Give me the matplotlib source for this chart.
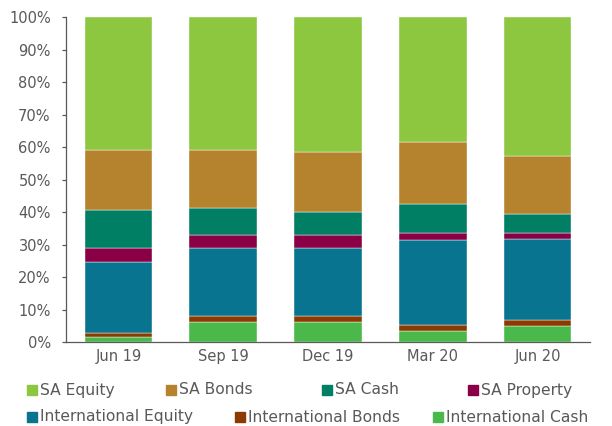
import matplotlib
matplotlib.use("Agg")
import matplotlib.pyplot as plt
from matplotlib.patches import Rectangle
from matplotlib.ticker import PercentFormatter
import numpy as np

quarters = ["Jun 19", "Sep 19", "Dec 19", "Mar 20", "Jun 20"]
series = ["SA Equity", "SA Bonds", "SA Cash", "SA Property",
          "International Equity", "International Bonds", "International Cash"]
intl_cash = [1.4, 6.2, 6.2, 3.3, 5.0]
intl_bonds = [1.3, 1.8, 1.8, 1.8, 1.9]
intl_equity = [22.0, 20.8, 20.8, 26.2, 24.9]
sa_property = [4.1, 4.2, 4.2, 2.3, 1.8]
sa_cash = [11.9, 8.3, 7.1, 9.0, 5.9]
sa_bonds = [18.5, 17.9, 18.5, 19.0, 17.9]
sa_equity = [40.8, 40.8, 41.4, 38.4, 42.6]

colors = {
    "SA Equity": "#8dc63f",
    "SA Bonds": "#b5832e",
    "SA Cash": "#007f64",
    "SA Property": "#8a0046",
    "International Equity": "#087490",
    "International Bonds": "#8b3a00",
    "International Cash": "#4ab84a",
}

# stacking order, bottom to top
stack = [("International Cash", intl_cash),
         ("International Bonds", intl_bonds),
         ("International Equity", intl_equity),
         ("SA Property", sa_property),
         ("SA Cash", sa_cash),
         ("SA Bonds", sa_bonds),
         ("SA Equity", sa_equity)]

grey = "#595959"
fig = plt.figure(figsize=(6.12, 4.26), dpi=100)
ax = fig.add_axes([66 / 612, 1 - 342 / 426, (590 - 66) / 612, (342 - 17.3) / 426])

x = np.arange(len(quarters))
bottom = np.zeros(len(quarters))
for name, vals in stack:
    vals = np.array(vals)
    ax.bar(x, vals, 0.645, bottom=bottom, color=colors[name],
           edgecolor="white", linewidth=0.3, zorder=2)
    bottom += vals

ax.set_xlim(-0.5, len(quarters) - 0.5)
ax.set_ylim(0, 100)
ax.set_yticks(np.arange(0, 101, 10))
ax.yaxis.set_major_formatter(PercentFormatter(decimals=0))
ax.set_xticks(x)
ax.set_xticklabels(quarters)
for s in ["top", "right"]:
    ax.spines[s].set_visible(False)
for s in ["left", "bottom"]:
    ax.spines[s].set_color(grey)
    ax.spines[s].set_linewidth(0.9)
ax.tick_params(axis="y", length=3, width=0.9, color=grey, labelcolor=grey,
               labelsize=10.5, pad=8)
ax.tick_params(axis="x", length=0, labelcolor=grey, labelsize=10.5, pad=5)

# legend laid out like the original (flow layout, two rows)
legend_pos = {
    "SA Equity": (27, 390),
    "SA Bonds": (166, 390),
    "SA Cash": (322, 390),
    "SA Property": (468, 390),
    "International Equity": (27, 417),
    "International Bonds": (235, 417),
    "International Cash": (433, 417),
}
for name in series:
    px, py = legend_pos[name]
    fig.add_artist(Rectangle((px / 612, 1 - (py + 5) / 426), 10 / 612, 10 / 426,
                             transform=fig.transFigure, color=colors[name]))
    fig.text((px + 13) / 612, 1 - py / 426, name, color=grey, fontsize=11.2,
             va="center", ha="left")

fig.savefig("out.png", dpi=100)
